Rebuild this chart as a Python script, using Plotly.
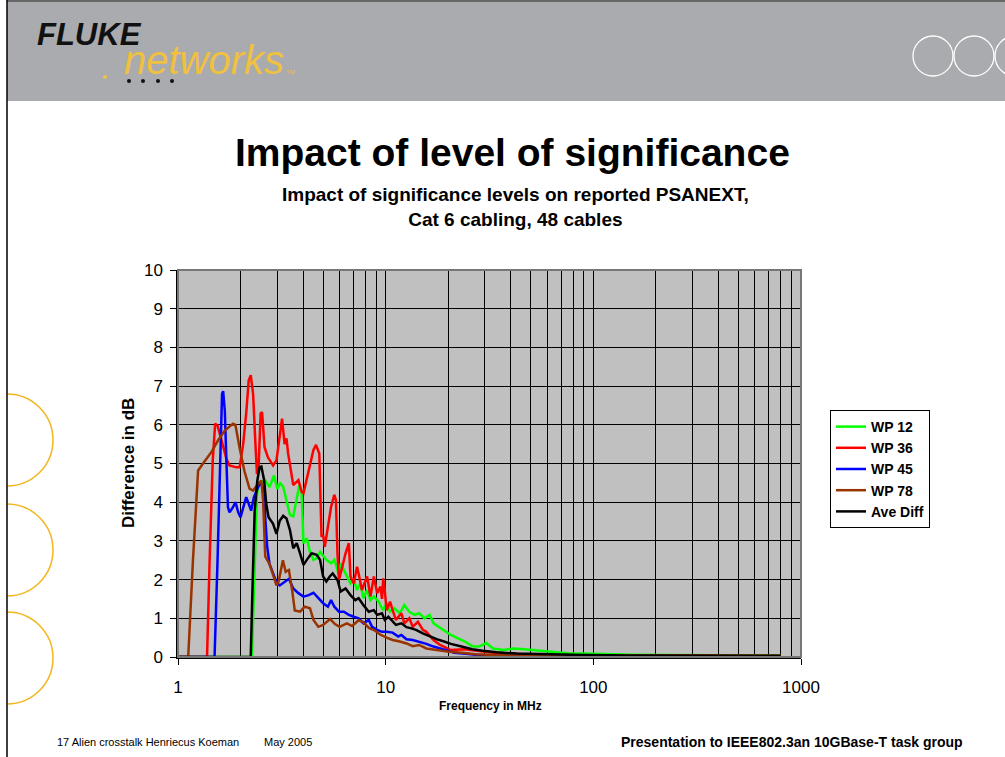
import plotly.graph_objects as go

# --- data (frequency in MHz, difference in dB) ---
freq_wp12 = [1.0, 2.27, 2.33, 2.40, 2.45, 2.52, 2.63, 2.76, 2.90, 3.01, 3.10, 3.21, 3.33, 3.46, 3.59,
             3.73, 3.84, 3.94, 4.02, 4.17, 4.32, 4.49, 4.65, 4.83, 4.97, 5.18, 5.46, 5.66, 5.86, 5.96,
             6.07, 6.29, 6.53, 6.77, 7.02, 7.28, 7.55, 7.82, 8.14, 8.45, 8.77, 9.27, 9.50, 9.73, 10.1,
             10.5, 11.0, 11.7, 12.3, 13.0, 13.8, 14.5, 15.4, 16.3, 17.0, 18.0, 19.1, 20.6, 22.3, 24.1,
             26.1, 28.2, 30.5, 32.9, 37.0, 41.4, 46.5, 55, 62, 75, 89, 120, 154, 250, 400, 600, 800]
wp12 = [0, 0, 2.0, 4.2, 4.5, 4.52, 4.56, 4.39, 4.69, 4.34, 4.49, 4.40, 4.06, 3.67, 3.63,
        4.06, 4.44, 4.27, 2.94, 3.07, 2.72, 2.51, 2.55, 2.72, 2.64, 2.51, 2.42, 2.51, 2.25, 2.08,
        2.42, 2.25, 2.08, 1.90, 1.99, 1.73, 1.90, 1.52, 1.73, 1.47, 1.56, 1.43, 1.30, 1.21, 1.39,
        1.17, 1.26, 1.13, 1.34, 1.17, 1.09, 1.13, 1.00, 1.09, 0.87, 0.78, 0.70, 0.57, 0.48, 0.40,
        0.28, 0.27, 0.36, 0.22, 0.18, 0.22, 0.20, 0.16, 0.14, 0.10, 0.09, 0.07, 0.06, 0.05, 0.04, 0.04, 0.04]

freq_wp36 = [1.0, 1.38, 1.42, 1.47, 1.51, 1.55, 1.62, 1.71, 1.77, 1.91, 1.98, 2.06, 2.13, 2.19, 2.24,
             2.30, 2.36, 2.40, 2.44, 2.50, 2.54, 2.61, 2.71, 2.87, 2.98, 3.09, 3.17, 3.26, 3.33, 3.39,
             3.59, 3.80, 3.94, 4.02, 4.26, 4.49, 4.62, 4.79, 4.91, 5.00, 5.09, 5.27, 5.46, 5.66, 5.76,
             5.86, 5.96, 6.18, 6.41, 6.65, 6.77, 7.02, 7.28, 7.41, 7.68, 8.14, 8.45, 8.77, 9.10, 9.44,
             9.60, 9.73, 9.90, 10.1, 10.5, 10.8, 11.2, 11.9, 12.3, 13.0, 13.5, 14.3, 15.1, 15.7, 17.0,
             18.3, 20.6, 24.1, 28.2, 32.9, 42.7, 60, 90, 150, 250, 400, 600, 800]
wp36 = [0, 0, 2.5, 5.08, 6.03, 5.98, 5.60, 5.12, 4.95, 4.90, 4.90, 5.50, 6.29, 7.15, 7.28,
        6.80, 5.50, 4.73, 4.80, 6.29, 6.33, 5.42, 5.16, 4.95, 5.08, 5.68, 6.16, 5.50, 5.65, 5.26,
        4.44, 4.57, 4.27, 4.23, 4.83, 5.35, 5.48, 5.26, 3.11, 3.15, 2.85, 3.37, 3.88, 4.19, 4.06,
        2.68, 1.99, 2.33, 2.68, 2.94, 2.08, 1.90, 2.33, 2.16, 1.73, 2.08, 1.56, 2.08, 1.65, 1.82,
        1.50, 2.03, 1.73, 1.21, 1.43, 1.21, 0.96, 1.13, 0.87, 1.00, 0.78, 0.91, 0.70, 0.65, 0.44,
        0.31, 0.18, 0.20, 0.16, 0.11, 0.08, 0.05, 0.04, 0.03, 0.04, 0.03, 0.03, 0.03]

freq_wp45 = [1.0, 1.50, 1.55, 1.59, 1.63, 1.65, 1.68, 1.71, 1.74, 1.77, 1.84, 1.89, 1.95, 2.00, 2.07,
             2.13, 2.19, 2.25, 2.32, 2.38, 2.45, 2.52, 2.60, 2.63, 2.69, 2.76, 2.87, 2.98, 3.09, 3.26,
             3.42, 3.59, 3.80, 4.02, 4.26, 4.49, 4.74, 5.00, 5.27, 5.46, 5.66, 5.96, 6.29, 6.65, 7.02,
             7.41, 7.82, 8.29, 8.60, 9.10, 9.60, 10.1, 10.8, 11.5, 11.9, 12.6, 13.5, 14.5, 15.7, 17.0,
             19.1, 21.4, 25.0, 29.3, 40, 60, 100, 200, 400, 800]
wp45 = [0, 0, 2.49, 5.08, 6.80, 6.87, 6.37, 5.08, 3.87, 3.74, 3.87, 4.00, 3.74, 3.61, 3.87,
        4.13, 3.96, 3.78, 4.13, 4.26, 4.43, 4.47, 4.30, 3.61, 2.83, 2.40, 2.14, 1.93, 1.85, 1.95,
        2.02, 1.77, 1.65, 1.56, 1.60, 1.66, 1.52, 1.39, 1.30, 1.47, 1.30, 1.17, 1.17, 1.09, 1.04,
        1.00, 0.87, 0.96, 0.78, 0.70, 0.65, 0.65, 0.63, 0.53, 0.57, 0.46, 0.44, 0.40, 0.34, 0.27,
        0.18, 0.11, 0.08, 0.04, 0.03, 0.02, 0.02, 0.02, 0.02, 0.02]

freq_wp78 = [1.0, 1.12, 1.18, 1.23, 1.25, 1.32, 1.45, 1.56, 1.68, 1.84, 1.89, 1.98, 2.09, 2.21, 2.30,
             2.43, 2.52, 2.57, 2.63, 2.76, 2.87, 2.98, 3.05, 3.20, 3.30, 3.42, 3.55, 3.65, 3.87, 4.08,
             4.32, 4.49, 4.74, 5.00, 5.40, 5.70, 6.00, 6.50, 6.90, 7.40, 7.80, 8.30, 8.90, 9.40, 10.1,
             10.8, 11.7, 12.6, 13.5, 14.5, 15.7, 17.6, 19.8, 23.2, 27.1, 32.9, 40, 55, 80, 120,
             200, 300, 500, 800]
wp78 = [0, 0, 2.49, 4.39, 4.82, 5.00, 5.30, 5.60, 5.85, 6.03, 6.00, 5.40, 4.80, 4.35, 4.30,
        4.47, 4.56, 4.04, 2.60, 2.40, 2.10, 1.85, 1.95, 2.50, 2.20, 2.25, 1.70, 1.20, 1.17, 1.30,
        1.26, 0.96, 0.78, 0.83, 0.98, 0.85, 0.78, 0.87, 0.80, 0.95, 0.90, 0.75, 0.68, 0.58, 0.50,
        0.44, 0.40, 0.35, 0.28, 0.31, 0.22, 0.18, 0.14, 0.11, 0.07, 0.05, 0.04, 0.03, 0.03, 0.02,
        0.03, 0.02, 0.02, 0.02]

freq_ave = [1.0, 2.24, 2.28, 2.34, 2.41, 2.47, 2.52, 2.60, 2.66, 2.73, 2.87, 2.98, 3.09, 3.21, 3.33,
            3.46, 3.59, 3.73, 3.87, 4.02, 4.17, 4.40, 4.65, 4.83, 5.00, 5.18, 5.38, 5.56, 5.86, 6.07,
            6.41, 6.77, 7.15, 7.41, 7.82, 8.29, 8.77, 9.10, 9.60, 9.90, 10.3, 10.6, 11.2, 11.9, 12.6,
            13.3, 14.0, 15.1, 16.3, 17.6, 19.1, 20.6, 23.2, 26.1, 29.3, 34.2, 42.7, 60, 90, 150,
            250, 400, 600, 800]
ave_diff = [0, 0, 1.62, 3.78, 4.56, 4.90, 4.92, 4.56, 3.96, 3.61, 3.44, 3.18, 3.52, 3.65, 3.58,
            3.28, 2.81, 2.94, 2.68, 2.38, 2.51, 2.68, 2.64, 2.51, 2.08, 1.95, 2.08, 2.16, 1.99, 1.69,
            1.77, 1.60, 1.47, 1.52, 1.34, 1.17, 1.21, 1.09, 1.13, 0.96, 1.04, 0.96, 0.83, 0.87, 0.77,
            0.74, 0.70, 0.61, 0.53, 0.46, 0.40, 0.34, 0.27, 0.20, 0.16, 0.12, 0.09, 0.07, 0.05, 0.04,
            0.04, 0.04, 0.03, 0.03]

series = [
    ("WP 12", freq_wp12, wp12, "#00FF00"),
    ("WP 36", freq_wp36, wp36, "#FF0000"),
    ("WP 45", freq_wp45, wp45, "#0000FF"),
    ("WP 78", freq_wp78, wp78, "#993300"),
    ("Ave Diff", freq_ave, ave_diff, "#000000"),
]

FONT = "Liberation Sans, Arial, sans-serif"
W, H = 1005, 757
L, R, T, B = 178, 801, 270, 657


def px(x):
    return (x - L) / (R - L)


def py(y):
    return (B - y) / (B - T)


fig = go.Figure()
for name, f, v, col in series:
    fig.add_trace(go.Scatter(x=f, y=v, name=name, mode="lines",
                             line=dict(color=col, width=2.5)))

annos = [
    dict(x=px(35), y=py(34), text="<b><i>FLUKE</i></b>", xanchor="left",
         font=dict(size=31, color="#111111")),
    dict(x=px(122), y=py(60), text="<i>networks</i>", xanchor="left",
         font=dict(size=40, color="#F0C040")),
    dict(x=px(284), y=py(72), text="TM", xanchor="left",
         font=dict(size=6, color="#F0C040")),
    dict(x=px(512), y=py(152), text="<b>Impact of level of significance</b>",
         font=dict(size=39, color="black")),
    dict(x=px(515), y=py(207), text="<b>Impact of significance levels on reported PSANEXT,<br>Cat 6 cabling, 48 cables</b>",
         font=dict(size=19, color="black")),
    dict(x=px(128), y=py(463), text="<b>Difference in dB</b>", textangle=-90,
         font=dict(size=17, color="black")),
    dict(x=px(490), y=py(706), text="<b>Frequency in MHz</b>",
         font=dict(size=12, color="black")),
    dict(x=px(55), y=py(742), text="17 Alien crosstalk Henriecus Koeman", xanchor="left",
         font=dict(size=11, color="black")),
    dict(x=px(262), y=py(742), text="May 2005", xanchor="left",
         font=dict(size=11, color="black")),
    dict(x=px(965), y=py(742), text="<b>Presentation to IEEE802.3an 10GBase-T task group</b>",
         xanchor="right", font=dict(size=14, color="black")),
]
for a in annos:
    a.update(xref="paper", yref="paper", showarrow=False, yanchor="middle")
    a.setdefault("xanchor", "center")
    a["font"]["family"] = FONT
    fig.add_annotation(**a)

shapes = []
# header band
shapes.append(dict(type="rect", x0=px(7), x1=px(1005), y0=py(101), y1=py(1),
                   fillcolor="#A9ABAE", line=dict(width=0), layer="below"))
shapes.append(dict(type="line", x0=px(7), x1=px(1005), y0=py(1), y1=py(1),
                   line=dict(color="#666666", width=2)))
# logo dots
shapes.append(dict(type="circle", x0=px(103), x1=px(107), y0=py(79), y1=py(75),
                   fillcolor="#F0C040", line=dict(width=0)))
for cx in [129, 143, 158, 172]:
    shapes.append(dict(type="circle", x0=px(cx - 2), x1=px(cx + 2), y0=py(83), y1=py(79),
                       fillcolor="#111111", line=dict(width=0)))
# white rings top right
for cx in [933, 974, 1015]:
    shapes.append(dict(type="circle", x0=px(cx - 20), x1=px(cx + 20), y0=py(76), y1=py(36),
                       line=dict(color="white", width=1.3)))
# orange rings on the left edge
for cy in [440, 550, 658]:
    shapes.append(dict(type="circle", x0=px(7 - 46), x1=px(7 + 46), y0=py(cy + 46), y1=py(cy - 46),
                       line=dict(color="#F2B51C", width=1.5)))
shapes.append(dict(type="rect", x0=px(-10), x1=px(7), y0=py(767), y1=py(102),
                   fillcolor="white", line=dict(width=0)))
shapes.append(dict(type="line", x0=px(7), x1=px(7), y0=py(757), y1=py(0),
                   line=dict(color="black", width=1.5)))
# plot area border
shapes.append(dict(type="rect", x0=0, x1=1, y0=0, y1=1,
                   line=dict(color="#777777", width=2)))
for s in shapes:
    s.setdefault("xref", "paper")
    s.setdefault("yref", "paper")
fig.update_layout(shapes=shapes)

fig.update_layout(
    width=W, height=H,
    margin=dict(l=L, r=W - R, t=T, b=H - B),
    paper_bgcolor="white",
    plot_bgcolor="#C0C0C0",
    font=dict(family=FONT, color="black"),
    showlegend=True,
    legend=dict(x=px(830), y=py(410), xanchor="left", yanchor="top",
                bgcolor="white", bordercolor="black", borderwidth=1,
                font=dict(size=14, family=FONT, color="black", weight="bold"),
                tracegroupgap=0),
    xaxis=dict(type="log", range=[0, 3], dtick=1, tick0=0, exponentformat="none",
               showgrid=True, gridcolor="black", gridwidth=1,
               minor=dict(dtick="D1", showgrid=True, gridcolor="black", gridwidth=1, ticks=""),
               showline=True, linecolor="black", linewidth=1.5,
               ticks="outside", ticklen=6, tickcolor="black",
               tickfont=dict(size=17, color="black"), ticklabelstandoff=8,
               zeroline=False),
    yaxis=dict(range=[0, 10], dtick=1, tick0=0,
               showgrid=True, gridcolor="black", gridwidth=1,
               showline=True, linecolor="black", linewidth=1.5,
               ticks="outside", ticklen=6, tickcolor="black",
               tickfont=dict(size=17, color="black"), ticklabelstandoff=4,
               zeroline=False),
)

fig.write_html("out.html", config={"displayModeBar": False},
               post_script="document.body.style.margin='0px';")
